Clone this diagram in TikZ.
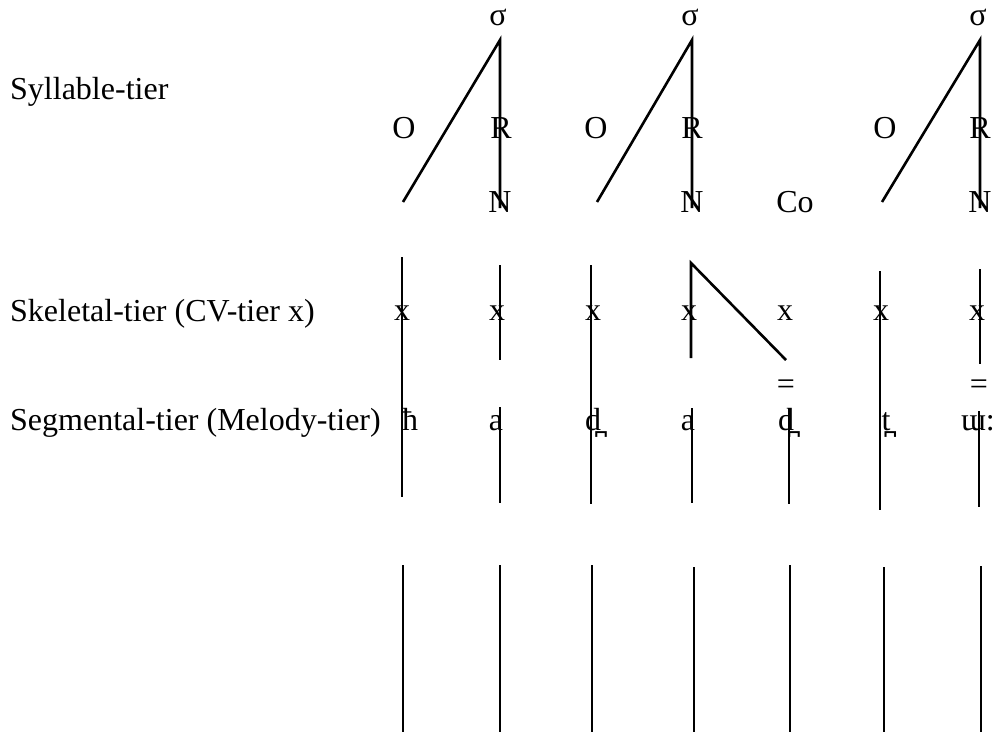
\documentclass[tikz,border=0pt]{standalone}
\usepackage{fontspec}
\setmainfont{Liberation Serif}
\begin{document}
\begin{tikzpicture}[x=1pt,y=-1pt,
  lbl/.style={inner sep=0pt, anchor=base west, font=\fontsize{32}{38}\selectfont},
  sym/.style={inner sep=0pt, anchor=base, font=\fontsize{32}{38}\selectfont},
  ln/.style={line width=2.6pt}]
\useasboundingbox (0,0) rectangle (995,734);
% row labels
\node[lbl] (syl) at (10,99) {Syllable-tier};
\node[lbl] (ske) at (10,321) {Skeletal-tier (CV-tier x)};
\node[lbl] (seg) at (10,430) {Segmental-tier (Melody-tier)};
% syllable tier
\node[sym] (s1) at (498,25) {σ};
\node[sym] (s2) at (690,25) {σ};
\node[sym] (s3) at (978,25) {σ};
\node[sym] (o1) at (404,138) {O};
\node[sym] (o2) at (596,138) {O};
\node[sym] (o3) at (885,138) {O};
\node[sym] (r1) at (501,138) {R};
\node[sym] (r2) at (692,138) {R};
\node[sym] (r3) at (980,138) {R};
\node[sym] (n1) at (500,212) {N};
\node[sym] (n2) at (692,212) {N};
\node[sym] (n3) at (980,212) {N};
\node[sym] (co) at (795,212) {Co};
% skeletal tier
\node[sym] (x1) at (402,320) {x};
\node[sym] (x2) at (497,320) {x};
\node[sym] (x3) at (593,320) {x};
\node[sym] (x4) at (689,320) {x};
\node[sym] (x5) at (785,320) {x};
\node[sym] (x6) at (881,320) {x};
\node[sym] (x7) at (977,320) {x};
\node[sym] (e1) at (786,394) {=};
\node[sym] (e2) at (979,394) {=};
% segmental tier
\node[sym] (g1) at (410,430) {ħ};
\node[sym] (g2) at (496,430) {a};
\node[sym] (g3) at (593,430) {d̪};
\node[sym] (g4) at (688,430) {a};
\node[sym] (g5) at (786,430) {d̪};
\node[sym] (g6) at (886,430) {t̪};
\node[inner sep=0pt, anchor=base east, font=\fontsize{32}{38}\selectfont] (g7) at (995,430) {ɯ:};
% syllable structure lines
\coordinate (a1) at (500,40);  \coordinate (a2) at (692,40);  \coordinate (a3) at (980,40);
\coordinate (d1) at (403,202); \coordinate (d2) at (597,202); \coordinate (d3) at (882,202);
\coordinate (v1) at (500,208); \coordinate (v2) at (692,208); \coordinate (v3) at (980,208);
\draw[ln] (d1) -- (a1) -- (v1);
\draw[ln] (d2) -- (a2) -- (v2);
\draw[ln] (d3) -- (a3) -- (v3);
% skeletal-segmental lines
\coordinate (p1a) at (402,257); \coordinate (p1b) at (402,497);
\coordinate (p2a) at (500,265); \coordinate (p2b) at (500,360);
\coordinate (q2a) at (500,407); \coordinate (q2b) at (500,503);
\coordinate (p3a) at (591,265); \coordinate (p3b) at (591,504);
\coordinate (p4a) at (691,263); \coordinate (p4b) at (691,358);
\coordinate (p4c) at (786,360);
\coordinate (q4a) at (692,408); \coordinate (q4b) at (692,503);
\coordinate (q5a) at (789,408); \coordinate (q5b) at (789,504);
\coordinate (p6a) at (880,271); \coordinate (p6b) at (880,510);
\coordinate (p7a) at (980,269); \coordinate (p7b) at (980,364);
\coordinate (q7a) at (979,411); \coordinate (q7b) at (979,507);
\draw[ln] (p1a) -- (p1b);
\draw[ln] (p2a) -- (p2b);
\draw[ln] (q2a) -- (q2b);
\draw[ln] (p3a) -- (p3b);
\draw[ln] (p4b) -- (p4a) -- (p4c);
\draw[ln] (q4a) -- (q4b);
\draw[ln] (q5a) -- (q5b);
\draw[ln] (p6a) -- (p6b);
\draw[ln] (p7a) -- (p7b);
\draw[ln] (q7a) -- (q7b);
% bottom lines
\foreach \i/\c/\t in {1/403/565, 2/500/565, 3/592/565, 4/694/567, 5/790/565, 6/884/567, 7/981/566} {
  \coordinate (b\i t) at (\c,\t);
  \coordinate (b\i b) at (\c,732);
  \draw[ln] (b\i t) -- (b\i b);
}
\end{tikzpicture}
\end{document}
